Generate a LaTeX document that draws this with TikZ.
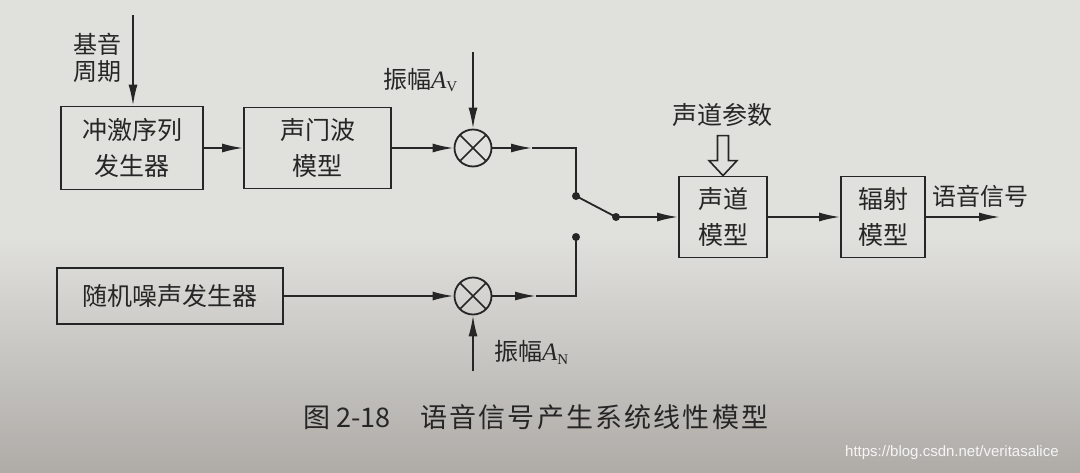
\documentclass[tikz,border=0pt]{standalone}
\usepackage{fontspec}
\setmainfont{Liberation Serif}
\newfontfamily\cjk{Noto Sans CJK SC}
\newfontfamily\latn{Liberation Serif}
\newfontfamily\wmfont{Liberation Sans}
\usetikzlibrary{arrows.meta,calc}
\definecolor{paper}{RGB}{224,224,220}
\definecolor{paperdark}{RGB}{175,172,168}
\definecolor{ink}{RGB}{38,38,38}
\newcommand{\ampl}[1]{振幅{\latn\fontsize{25}{27}\selectfont\itshape A}\raisebox{-0.3ex}{\latn\fontsize{15}{15}\selectfont #1}}
\begin{document}
\begin{tikzpicture}[x=1pt,y=-1pt,
  every node/.style={text=ink},
  blk/.style={draw=ink,line width=1.8pt,rectangle,inner sep=0pt,align=center,
    font=\cjk\fontsize{25}{36}\selectfont},
  mult/.style={draw=ink,line width=1.8pt,circle,minimum size=37pt,inner sep=0pt,
    path picture={\draw[ink,line width=1.5pt]
      (path picture bounding box.north west)--(path picture bounding box.south east)
      (path picture bounding box.north east)--(path picture bounding box.south west);}},
  lbl/.style={font=\cjk\fontsize{24}{27}\selectfont,inner sep=0pt,align=center},
  conn/.style={draw=ink,line width=1.8pt},
  arr/.style={conn,-{Latex[length=21pt,width=9pt]}},
  dot/.style={circle,fill=ink,minimum size=8pt,inner sep=0pt}
]
% background
\shade[top color=paper,bottom color=paperdark,middle color=paper] (0,0) rectangle (1080,472);
\useasboundingbox (0,0) rectangle (1080,472);

% blocks
\node[blk,minimum width=142pt,minimum height=83pt] (b1) at (132,148) {冲激序列\\发生器};
\node[blk,minimum width=147pt,minimum height=81pt] (b2) at (317.5,148) {声门波\\模型};
\node[mult] (m1) at (473,148) {};
\node[blk,minimum width=88pt,minimum height=81pt] (b3) at (723,217) {声道\\模型};
\node[blk,minimum width=84pt,minimum height=81pt] (b4) at (883,217) {辐射\\模型};
\node[blk,minimum width=226pt,minimum height=56pt] (b5) at (170,296) {随机噪声发生器};
\node[mult] (m2) at (473,296) {};

% switch
\node[dot] (s1) at (576,196) {};
\node[dot] (s2) at (616,217) {};
\node[dot] (s3) at (576,237) {};

% labels
\node[lbl] (pitch) at (97,58) {基音\\周期};
\coordinate (pitchtop) at (133,15);
\node[lbl,anchor=west] (av) at (383,80) {\ampl{V}};
\coordinate (avtop) at (473,52);
\node[lbl,anchor=west] (an) at (494,352) {\ampl{N}};
\coordinate (anbot) at (473,371);
\node[lbl,font=\cjk\fontsize{25}{27}\selectfont] (vtp) at (722,115) {声道参数};
\node[lbl,anchor=west] (out) at (932,196) {语音信号};
\coordinate (outend) at (1000,217);

% connectors
\draw[arr] (pitchtop) -- (b1.north -| pitchtop);
\draw[arr] (b1.east) -- (b2.west);
\draw[arr] (b2.east) -- (m1.west);
\draw[arr] (avtop) -- (m1.north);
\coordinate (a1) at (532,148);
\draw[arr] (m1.east) -- (a1);
\draw[conn] (a1) -| (s1.center);
\draw[conn] (s1.center) -- (s2.center);
\draw[arr] (s2.center) -- (b3.west);
\draw[arr] (b3.east) -- (b4.west);
\draw[arr] (b4.east) -- (outend);
\draw[arr] (b5.east) -- (m2.west);
\draw[arr] (anbot) -- (m2.south);
\coordinate (a2) at (536,296);
\draw[arr] (m2.east) -- (a2);
\draw[conn] (a2) -| (s3.center);

% hollow parameter arrow
\draw[ink,line width=1.6pt,fill=paper,line join=miter]
  ($(b3.north)+(-5.5,-40)$) -- ($(b3.north)+(5.5,-40)$) -- ($(b3.north)+(5.5,-15)$)
  -- ($(b3.north)+(14,-15)$) -- (b3.north) -- ($(b3.north)+(-14,-15)$)
  -- ($(b3.north)+(-5.5,-15)$) -- cycle;

% caption
\node[anchor=west,inner sep=0pt,text=ink] (cap) at (303,417)
  {\cjk\fontsize{27}{30}\selectfont 图\hspace{6pt}2-18\hspace{30pt}\addfontfeatures{LetterSpace=8}语音信号产生系统线性模型};

% watermark
\node[anchor=west,inner sep=0pt,text=white!92!gray] (wm) at (845,453)
  {\wmfont\fontsize{15}{15}\selectfont https://blog.csdn.net/veritasalice};
\end{tikzpicture}
\end{document}
